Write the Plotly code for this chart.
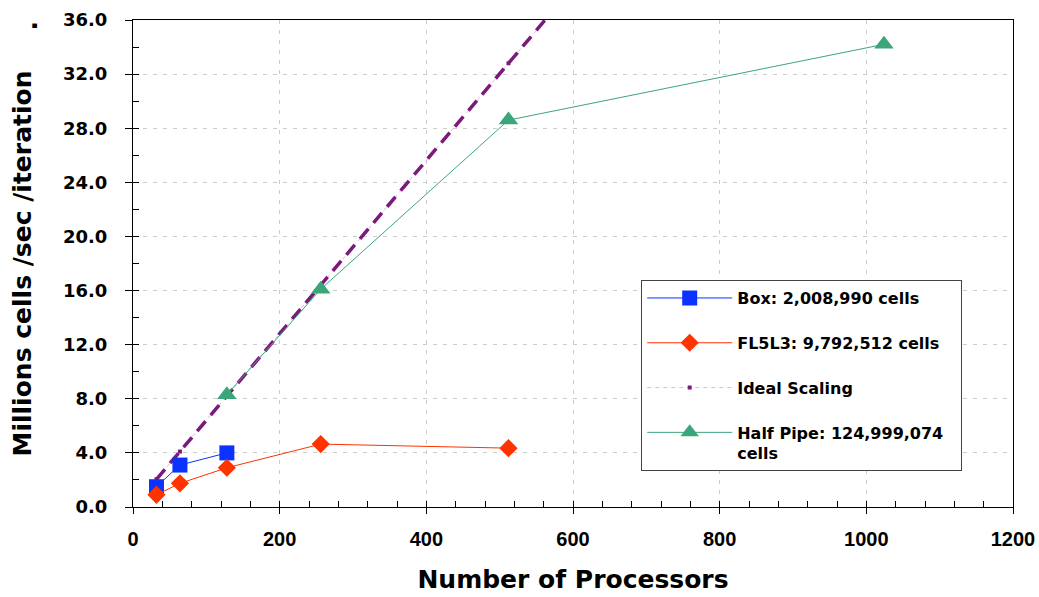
import plotly.graph_objects as go

# ---- data ----
box_procs = [32, 64, 128]
box_rate = [1.5, 3.1, 4.0]

fl_procs = [32, 64, 128, 256, 512]
fl_rate = [0.9, 1.75, 2.9, 4.65, 4.35]

ideal_procs = [32, 64, 128, 256, 512, 1024]
ideal_rate = [2.05, 4.1, 8.2, 16.4, 32.8, 65.6]

hp_procs = [128, 256, 512, 1024]
hp_rate = [8.3, 16.1, 28.6, 34.2]

names = ["Box: 2,008,990 cells", "FL5L3: 9,792,512 cells\u00a0\u00a0\u00a0", "Ideal Scaling",
         "Half Pipe: 124,999,074<br>cells"]

x_ticks = [0, 200, 400, 600, 800, 1000, 1200]
y_ticks = [0, 4, 8, 12, 16, 20, 24, 28, 32, 36]

BLUE = "#0A33FF"
RED = "#FF3300"
GREEN = "#3CA57A"
PURPLE = "#7A1A7A"
PINK = "#E2B6E2"

fig = go.Figure()

# Ideal scaling: thin pink line with thick purple dashes over it
fig.add_trace(go.Scatter(x=ideal_procs, y=ideal_rate, mode="lines+markers", name=names[2],
                         line=dict(color=PINK, width=1, dash="4px,4px"),
                         marker=dict(symbol="square", size=4, color=PURPLE),
                         legendrank=3, legendgroup="c"))
fig.add_trace(go.Scatter(x=ideal_procs, y=ideal_rate, mode="lines", showlegend=False,
                         line=dict(color=PURPLE, width=3.5, dash="13px,8px"),
                         hoverinfo="skip"))
fig.add_trace(go.Scatter(x=box_procs, y=box_rate, mode="lines+markers", name=names[0],
                         line=dict(color=BLUE, width=1),
                         marker=dict(symbol="square", size=15, color=BLUE),
                         legendrank=1, legendgroup="a"))
fig.add_trace(go.Scatter(x=fl_procs, y=fl_rate, mode="lines+markers", name=names[1],
                         line=dict(color=RED, width=1),
                         marker=dict(symbol="diamond", size=14, color=RED),
                         legendrank=2, legendgroup="b"))
fig.add_trace(go.Scatter(x=hp_procs, y=hp_rate, mode="lines+markers", name=names[3],
                         line=dict(color=GREEN, width=1),
                         marker=dict(symbol="triangle-up", size=17, color=GREEN),
                         legendrank=4, legendgroup="d"))
# empty helper trace for overlay tick axes
fig.add_trace(go.Scatter(x=[], y=[], xaxis="x2", yaxis="y2", showlegend=False))

grid = dict(showgrid=True, gridcolor="#CCCCCC", gridwidth=1, griddash="4px,6px")

fig.update_layout(
    width=1039, height=597,
    margin=dict(l=133, r=26, t=20, b=90, autoexpand=False),
    paper_bgcolor="white", plot_bgcolor="white",
    font=dict(family="Liberation Sans, Arial, sans-serif", color="black"),
    xaxis=dict(range=[0, 1200], tickvals=x_ticks, ticktext=[str(v) for v in x_ticks],
               ticks="outside", ticklen=6, tickcolor="black", tickwidth=1,
               showline=True, linecolor="black", linewidth=1.2, mirror=True,
               zeroline=False, ticklabelstandoff=8, automargin=False,
               tickfont=dict(family="Liberation Sans, Arial", size=20, weight="bold"),
               title=dict(text="Number of Processors", standoff=21,
                          font=dict(family="DejaVu Sans", size=25, weight="bold")),
               **grid),
    yaxis=dict(range=[0, 36], tickvals=y_ticks, ticktext=[f"{v:.1f}" for v in y_ticks],
               ticks="outside", ticklen=7, tickcolor="black", tickwidth=1,
               showline=True, linecolor="black", linewidth=1.2, mirror=True,
               zeroline=False, ticklabelstandoff=14, automargin=False,
               tickfont=dict(family="DejaVu Sans", size=18, weight="bold"),
               title=dict(text="Millions cells /sec /iteration", standoff=24,
                          font=dict(family="DejaVu Sans", size=25, weight="bold")),
               **grid),
    xaxis2=dict(overlaying="x", anchor="y", range=[0, 1200], dtick=40, tick0=0,
                ticks="inside", ticklen=6, tickcolor="black", showticklabels=False,
                showgrid=False, zeroline=False, showline=False, automargin=False),
    yaxis2=dict(overlaying="y", anchor="x", range=[0, 36], dtick=2, tick0=0,
                ticks="inside", ticklen=6, tickcolor="black", showticklabels=False,
                showgrid=False, zeroline=False, showline=False, automargin=False),
    legend=dict(x=0.5775, y=0.466, xanchor="left", yanchor="top",
                bgcolor="white", bordercolor="#444444", borderwidth=1,
                font=dict(family="DejaVu Sans", size=16, weight="bold"),
                tracegroupgap=21, valign="top", itemwidth=85),
    showlegend=True,
)

fig.add_annotation(text=".", xref="paper", yref="paper", x=-0.1375, y=1.004,
                   showarrow=False, textangle=-90,
                   font=dict(family="DejaVu Sans", size=25, weight="bold"))

# remove the browser's default page margin so the figure fills the window exactly
fig.write_html("out.html", config={"displayModeBar": False},
               post_script="document.body.style.margin='0';document.body.style.overflow='hidden';")
